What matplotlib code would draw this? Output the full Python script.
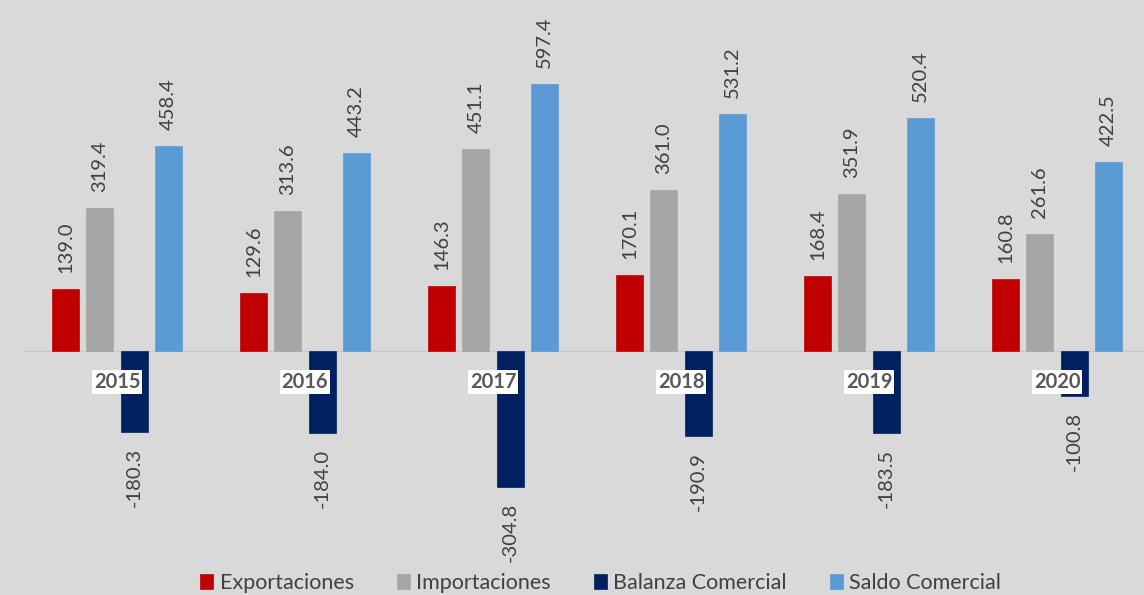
import numpy as np
import matplotlib.pyplot as plt

plt.rcParams['font.family'] = ['Lato', 'DejaVu Sans']

# datos
anios = ['2015', '2016', '2017', '2018', '2019', '2020']
exportaciones = [139.0, 129.6, 146.3, 170.1, 168.4, 160.8]
importaciones = [319.4, 313.6, 451.1, 361.0, 351.9, 261.6]
balanza = [-180.3, -184.0, -304.8, -190.9, -183.5, -100.8]
saldo = [458.4, 443.2, 597.4, 531.2, 520.4, 422.5]

series = [('Exportaciones', exportaciones, '#c00000'),
          ('Importaciones', importaciones, '#a5a5a5'),
          ('Balanza Comercial', balanza, '#002060'),
          ('Saldo Comercial', saldo, '#5b9bd5')]

fondo = '#d9d9d9'
fig = plt.figure(figsize=(11.44, 5.95), dpi=100, facecolor=fondo)
ax = fig.add_axes([23 / 1144, 35 / 595, 1128 / 1144, 500 / 595])
ax.set_facecolor(fondo)

x = np.arange(len(anios))
ancho = 0.1436
paso = 0.1825

for i, (nombre, valores, color) in enumerate(series):
    pos = x + (i - 1.5) * paso
    barras = ax.bar(pos, valores, ancho, color=color, label=nombre,
                    edgecolor=color, linewidth=0.5, zorder=2)
    for b, v in zip(barras, valores):
        desp = 11.5 if v >= 0 else -11.5
        ax.annotate(f'{v:.1f}', (b.get_x() + b.get_width() / 2, v),
                    xytext=(0, desp), textcoords='offset points',
                    rotation=90, ha='center',
                    va='bottom' if v >= 0 else 'top',
                    fontsize=14.5, color='#404040')

# etiquetas de año sobre las barras
for xi, a in zip(x, anios):
    ax.text(xi, -69, a, ha='center', va='center', fontsize=14.5,
            fontweight='bold', color='#595959', zorder=5,
            bbox=dict(facecolor='white', edgecolor='none', pad=1.5))

ax.axhline(0, color='#c8c8c8', linewidth=1, zorder=1)
ax.set_xlim(-0.5, 5.5)
ax.set_ylim(-(560 - 351) / 0.447, (351 - 60) / 0.447)
ax.set_xticks([])
ax.set_yticks([])
for s in ax.spines.values():
    s.set_visible(False)

leg = fig.legend(loc='lower center', bbox_to_anchor=(0.525, -0.03), ncol=4,
                 frameon=False, fontsize=15.5, handlelength=0.6, handleheight=0.7,
                 handletextpad=0.3, columnspacing=2.0)
for t in leg.get_texts():
    t.set_color('#404040')

fig.savefig('out.png', dpi=100, facecolor=fondo)
